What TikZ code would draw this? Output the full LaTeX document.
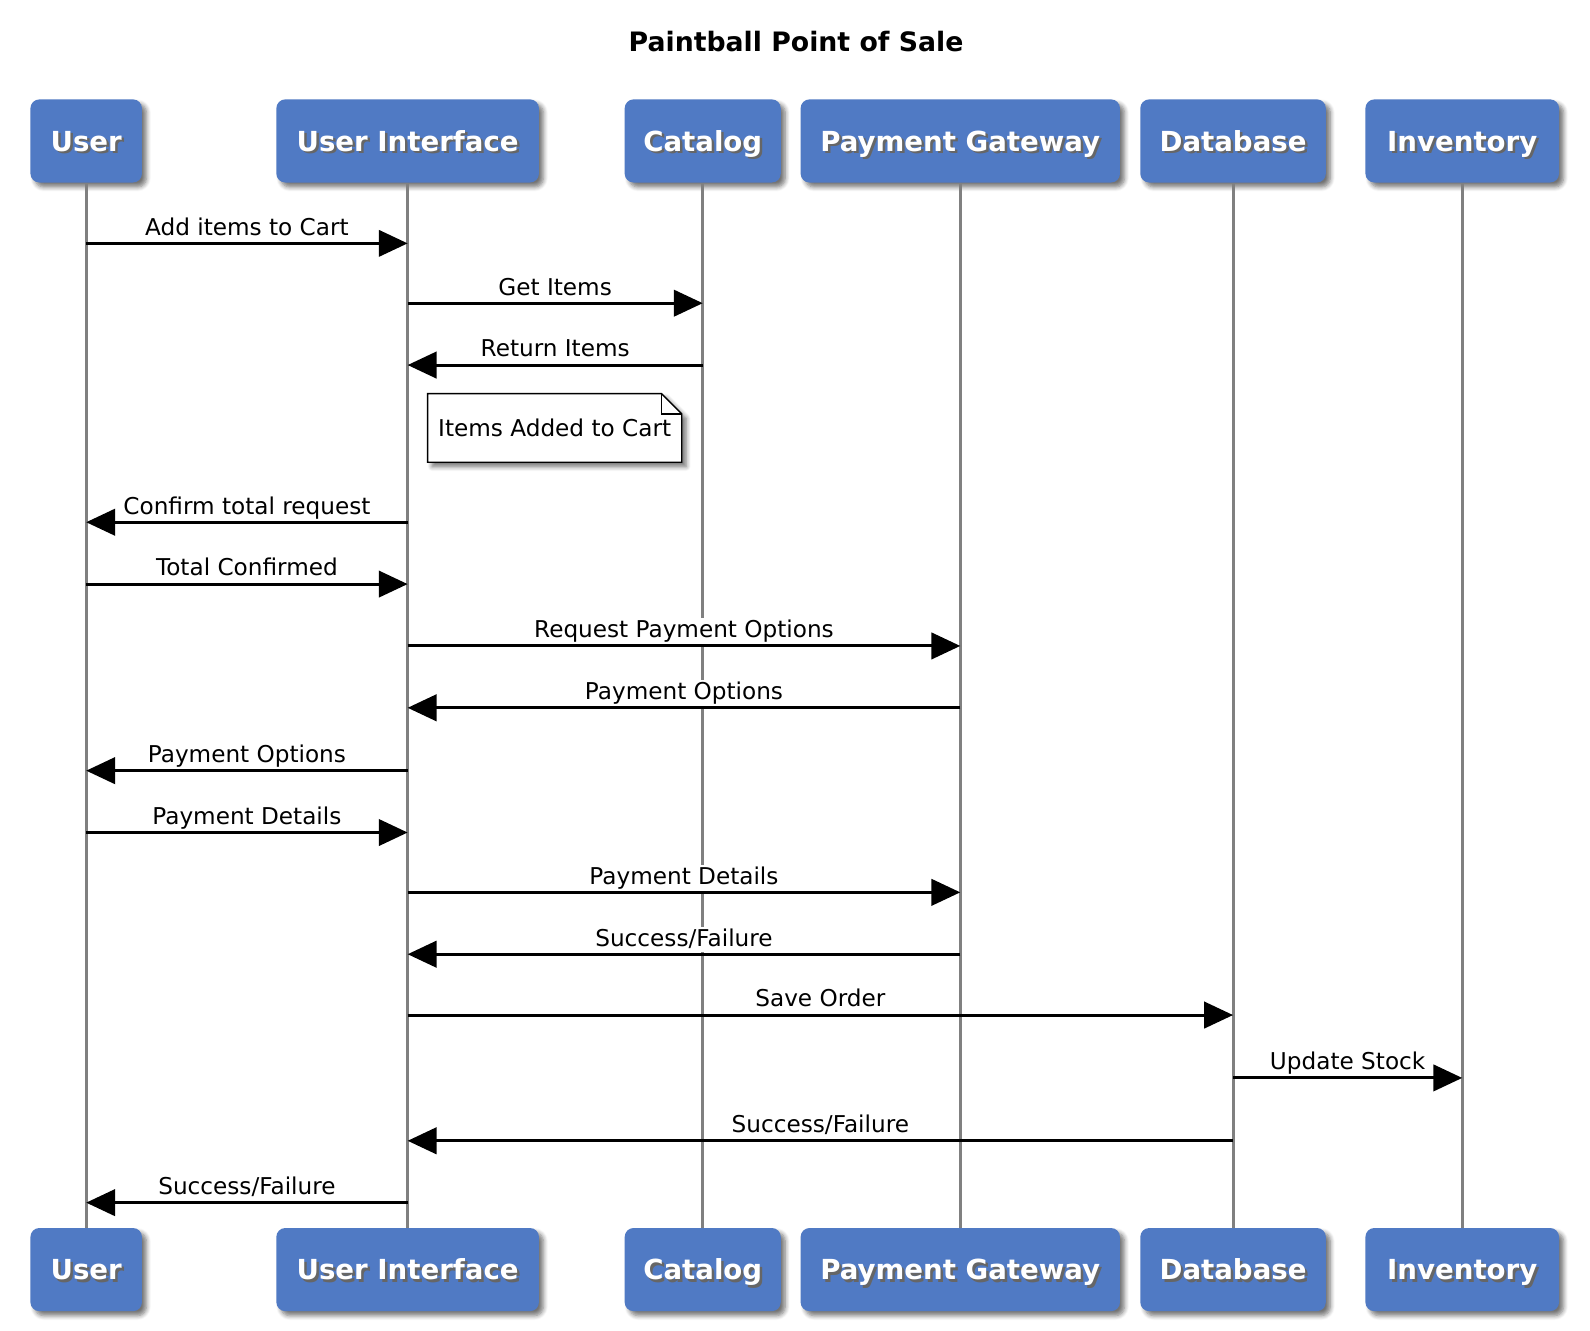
\documentclass[tikz,border=0pt]{standalone}
\usepackage{fontspec}
\setmainfont{DejaVu Sans}
\usetikzlibrary{arrows.meta,shadows.blur,backgrounds}
\definecolor{boxblue}{RGB}{80,122,196}
\definecolor{lifegray}{RGB}{128,128,128}
% white name with a soft dark shadow behind it
\newcommand{\shname}[1]{\makebox[0pt][l]{\kern1.4pt\raisebox{-1.4pt}{\color{black!60}#1}}#1}
\tikzset{
  softshadow/.style={blur shadow={shadow xshift=2.5pt, shadow yshift=-2.5pt,
    shadow blur radius=2.5pt, shadow blur steps=6, shadow opacity=55}},
  actor/.style={fill=boxblue, rounded corners=5pt, text=white, inner sep=0pt,
    font=\fontsize{15.5}{19}\selectfont\bfseries, minimum height=1.64cm,
    text height=11.6pt, text depth=0.3pt, softshadow},
  lifeline/.style={lifegray, line width=1.6pt},
  msg/.style={line width=1.7pt, -{Triangle[length=0.57cm,width=0.52cm]}},
  msglabel/.style={midway, anchor=base, yshift=0.16cm, fill=white, inner sep=1pt,
    text depth=0.09cm, font=\fontsize{13}{15}\selectfont},
  notebox/.style={draw, fill=white, line width=0.8pt, softshadow},
}
\begin{document}
\begin{tikzpicture}[x=0.02cm,y=-0.02cm]
	\useasboundingbox (0,0) rectangle (1568,1311.6);
	%TITLE
	\node (title) [font=\fontsize{15}{18}\selectfont\bfseries] at (785,41) {Paintball Point of Sale};
	%PARTICIPANTS
	\foreach \id/\x/\w/\txt in {user/85/2.2/User, ui/402/5.18/User Interface, catalog/693/3.08/Catalog,
		gateway/947/6.3/Payment Gateway, db/1216/3.66/Database, inventory/1442/3.82/Inventory}{
		\node[actor, minimum width=\w cm] (\id) at (\x,139) {\shname{\txt}};
		\node[actor, minimum width=\w cm] (\id-end) at (\x,1252) {\shname{\txt}};
		\draw[lifeline] (\id.south) -- (\id-end.north);
	}
	%MESSAGES
	\draw[msg] (user |- 0,240) -- (ui |- 0,240) node[msglabel]{Add items to Cart};
	\draw[msg] (ui |- 0,299) -- (catalog |- 0,299) node[msglabel]{Get Items};
	\draw[msg] (catalog |- 0,360) -- (ui |- 0,360) node[msglabel]{Return Items};
	%NOTE
	\node (note) [minimum width=5cm, minimum height=1.34cm, inner sep=0pt, font=\fontsize{13}{15}\selectfont] at (547,422) {Items Added to Cart};
	\begin{scope}[on background layer]
		\draw[notebox] (note.south west) -- (note.north west) -- ([xshift=-0.4cm]note.north east)
			-- ([yshift=-0.4cm]note.north east) -- (note.south east) -- cycle;
		\draw[line width=0.8pt] ([xshift=-0.4cm]note.north east) |- ([yshift=-0.4cm]note.north east);
	\end{scope}
	\draw[msg] (ui |- 0,515) -- (user |- 0,515) node[msglabel]{Confirm total request};
	\draw[msg] (user |- 0,576) -- (ui |- 0,576) node[msglabel]{Total Confirmed};
	\draw[msg] (ui |- 0,637) -- (gateway |- 0,637) node[msglabel]{Request Payment Options};
	\draw[msg] (gateway |- 0,698) -- (ui |- 0,698) node[msglabel]{Payment Options};
	\draw[msg] (ui |- 0,760) -- (user |- 0,760) node[msglabel]{Payment Options};
	\draw[msg] (user |- 0,821) -- (ui |- 0,821) node[msglabel]{Payment Details};
	\draw[msg] (ui |- 0,880) -- (gateway |- 0,880) node[msglabel]{Payment Details};
	\draw[msg] (gateway |- 0,941) -- (ui |- 0,941) node[msglabel]{Success/Failure};
	\draw[msg] (ui |- 0,1001) -- (db |- 0,1001) node[msglabel]{Save Order};
	\draw[msg] (db |- 0,1063) -- (inventory |- 0,1063) node[msglabel]{Update Stock};
	\draw[msg] (db |- 0,1125) -- (ui |- 0,1125) node[msglabel]{Success/Failure};
	\draw[msg] (ui |- 0,1186) -- (user |- 0,1186) node[msglabel]{Success/Failure};
\end{tikzpicture}
\end{document}
